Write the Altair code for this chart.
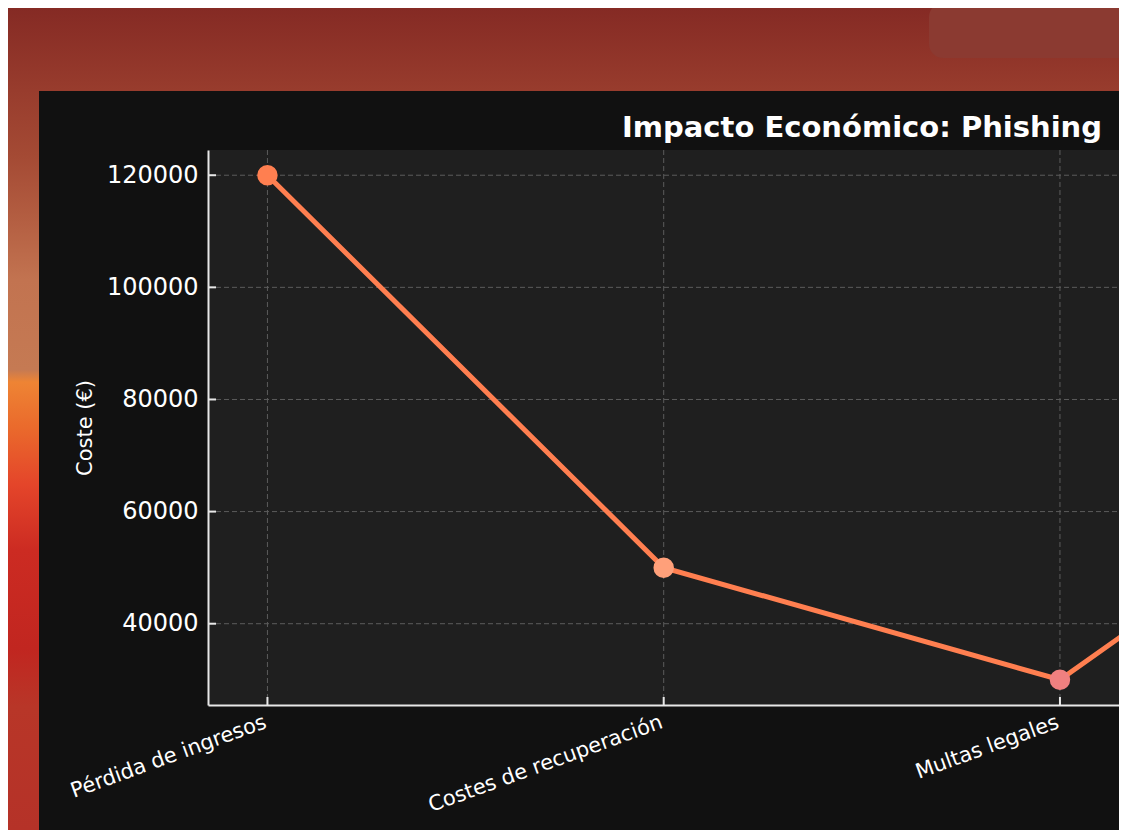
import json
import altair as alt
import pandas as pd

# ---- data ----
categories = ["Pérdida de ingresos", "Costes de recuperación", "Multas legales", "Daño reputacional"]
costs = [120000, 50000, 30000, 80000]
point_colors = ["#FF7F50", "#FFA07A", "#F08080", "#FA8072"]
y_ticks = [40000, 60000, 80000, 100000, 120000]
title_text = "Impacto Económico: Phishing"
y_title = "Coste (€)"

# ---- layout (pixels) ----
W, H = 911, 555
PAD_L, PAD_T, PAD_B = 200, 142, 125

df = pd.DataFrame({
    "idx": list(range(len(categories))),
    "categoria": categories,
    "coste": costs,
    "color": point_colors,
})
ticks_df = pd.DataFrame({"v": y_ticks})
one = pd.DataFrame({"a": [0]})

x_scale = alt.Scale(domain=[-0.15, 2.149], nice=False, zero=False)
y_scale = alt.Scale(domain=[25500, 124500], nice=False, zero=False)

label_expr = json.dumps(categories, ensure_ascii=False) + "[datum.value]"

FONT = "DejaVu Sans"
SPINE = "#e8e8e8"

x_axis = alt.Axis(
    values=list(range(len(categories))), labelExpr=label_expr,
    labelAngle=340, labelAlign="right", labelBaseline="top",
    labelFontSize=21, labelColor="white", labelFont=FONT, labelPadding=6,
    labelOffset=-6,
    labelOverlap=False, labelFlush=False, labelBound=False, labelLimit=0,
    ticks=False, grid=False, domainColor=SPINE, domainWidth=2,
    title=None, zindex=1,
)
y_axis = alt.Axis(
    values=y_ticks, format="d",
    labelFontSize=24, labelColor="white", labelFont=FONT, labelPadding=10,
    labelOverlap=False, labelFlush=False, labelLimit=0,
    ticks=False, grid=False, domainColor=SPINE, domainWidth=2,
    title=y_title, titleFontSize=21, titleColor="white", titleFont=FONT,
    titleFontWeight="normal", titlePadding=15, titleBaseline="alphabetic",
    zindex=1,
)


def X(field):
    return alt.X(field, scale=x_scale, axis=x_axis)


def Y(field):
    return alt.Y(field, scale=y_scale, axis=y_axis)


grad = alt.Gradient(
    gradient="linear", x1=0, x2=0, y1=0, y2=1,
    stops=[
        alt.GradientStop(offset=0.0, color="#852a24"),
        alt.GradientStop(offset=0.10, color="#983c2d"),
        alt.GradientStop(offset=0.18, color="#a44a34"),
        alt.GradientStop(offset=0.25, color="#b25c40"),
        alt.GradientStop(offset=0.33, color="#c27350"),
        alt.GradientStop(offset=0.44, color="#c57a53"),
        alt.GradientStop(offset=0.455, color="#ee8434"),
        alt.GradientStop(offset=0.51, color="#ea6a2c"),
        alt.GradientStop(offset=0.58, color="#e4452a"),
        alt.GradientStop(offset=0.66, color="#cc2b22"),
        alt.GradientStop(offset=0.78, color="#c12620"),
        alt.GradientStop(offset=0.85, color="#b83628"),
        alt.GradientStop(offset=1.0, color="#b53228"),
    ],
)

bg = alt.Chart(one).mark_rect(fill=grad).encode(
    x=alt.value(-PAD_L), x2=alt.value(W), y=alt.value(-PAD_T), y2=alt.value(H + PAD_B)
)
# faint textured blob at the top-right of the backdrop
blob = alt.Chart(one).mark_rect(fill="#8b3a31", cornerRadius=14).encode(
    x=alt.value(721), x2=alt.value(W + 20), y=alt.value(-147), y2=alt.value(-92)
)
panel = alt.Chart(one).mark_rect(fill="#111111").encode(
    x=alt.value(-169), x2=alt.value(W), y=alt.value(-59), y2=alt.value(H + PAD_B)
)
plot_bg = alt.Chart(one).mark_rect(fill="#1f1f1f").encode(
    x=alt.value(0), x2=alt.value(W), y=alt.value(0), y2=alt.value(H)
)

grid_y = alt.Chart(ticks_df).mark_rule(color="#5c5c5c", strokeWidth=1, strokeDash=[5, 3]).encode(
    y=Y("v:Q"), x=alt.value(0), x2=alt.value(W)
)
grid_x = alt.Chart(df).mark_rule(color="#5c5c5c", strokeWidth=1, strokeDash=[5, 3], clip=True).encode(
    x=X("idx:Q"), y=alt.value(0), y2=alt.value(H)
)

line = alt.Chart(df).mark_line(color="#FF7F50", strokeWidth=5, clip=True).encode(
    x=X("idx:Q"), y=Y("coste:Q"),
)
points = alt.Chart(df).mark_circle(size=420, opacity=1, clip=True).encode(
    x=X("idx:Q"), y=Y("coste:Q"),
    color=alt.Color("color:N", scale=None, legend=None),
)

ytick_marks = alt.Chart(ticks_df).mark_rule(color=SPINE, strokeWidth=2).encode(
    y=Y("v:Q"), x=alt.value(0), x2=alt.value(8)
)
xtick_marks = alt.Chart(df).mark_rule(color=SPINE, strokeWidth=2, clip=True).encode(
    x=X("idx:Q"), y=alt.value(H - 8), y2=alt.value(H)
)

title = alt.Chart(one).mark_text(
    text=title_text, font=FONT, fontSize=29, fontWeight="bold", color="white",
    align="center", baseline="alphabetic",
).encode(x=alt.value(654), y=alt.value(-13))

chart = alt.layer(
    bg, blob, panel, plot_bg, grid_y, grid_x, line, points, ytick_marks, xtick_marks, title
).properties(
    width=W, height=H,
    padding={"left": PAD_L, "top": PAD_T, "right": 0, "bottom": PAD_B},
    autosize=alt.AutoSizeParams(type="none"),
).configure_view(stroke=None)

chart.save("out.html", embed_options={"renderer": "svg", "actions": False})
